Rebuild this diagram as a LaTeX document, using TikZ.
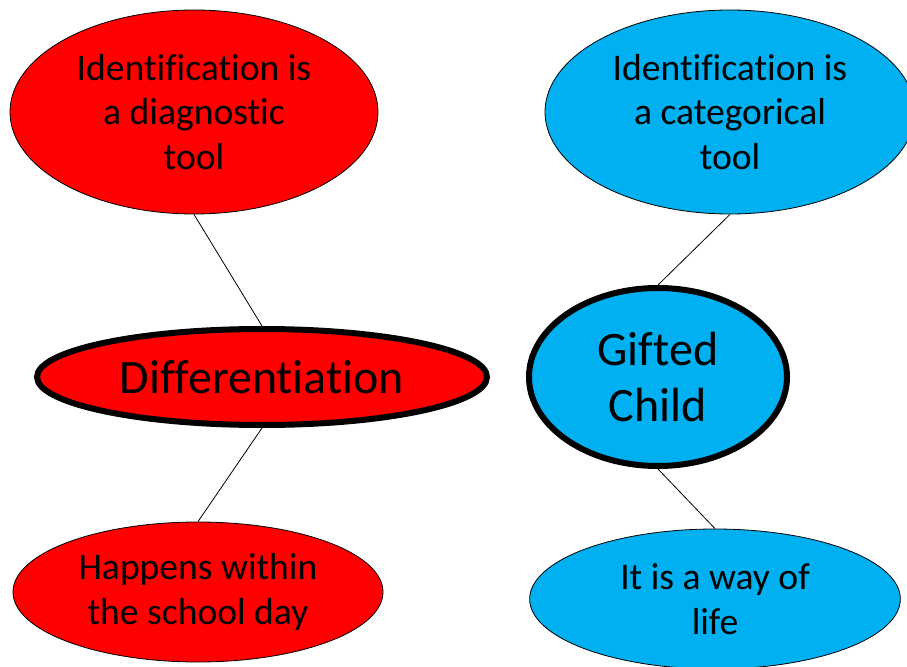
\documentclass[tikz,border=0pt]{standalone}
\usepackage{fontspec}
\setmainfont{Carlito}[RawFeature={-liga}]
\usetikzlibrary{shapes.geometric}
\definecolor{myred}{HTML}{FF0000}
\definecolor{myblue}{HTML}{00B0F0}
\tikzset{
  bub/.style={ellipse, draw=black, line width=0.6pt, inner sep=0pt, align=center,
    font=\fontsize{28.2}{33.4}\selectfont},
  hub/.style={ellipse, draw=black, line width=4.5pt, inner sep=0pt, align=center,
    font=\fontsize{36}{42}\selectfont},
  link/.style={draw=black, line width=0.6pt}
}
\begin{document}
\begin{tikzpicture}[x=0.75pt,y=-0.75pt]
\useasboundingbox (0,0) rectangle (907,667);
\node[bub, fill=myred, minimum width=276pt, minimum height=153pt] (tl) at (194,112)
  {Identification is\\a diagnostic\\tool};
\node[bub, fill=myblue, minimum width=277.5pt, minimum height=153pt] (tr) at (730,112)
  {Identification is\\a categorical\\tool};
\node[hub, fill=myred, minimum width=337.5pt, minimum height=72pt] (diff) at (262,377)
  {Differentiation};
\node[hub, fill=myblue, minimum width=193.5pt, minimum height=133.5pt] (gift) at (658,377)
  {Gifted\\Child};
\node[bub, fill=myred, minimum width=277.5pt, minimum height=105pt] (bl) at (198,592)
  {Happens within\\the school day};
\node[bub, fill=myblue, minimum width=278pt, minimum height=105pt] (br) at (715,599)
  {It is a way of\\life};
\draw[link] (tl.south) -- (diff.north);
\draw[link] (diff.south) -- (bl.north);
\draw[link] (tr.south) -- (gift.north);
\draw[link] (gift.south) -- (br.north);
\end{tikzpicture}
\end{document}
